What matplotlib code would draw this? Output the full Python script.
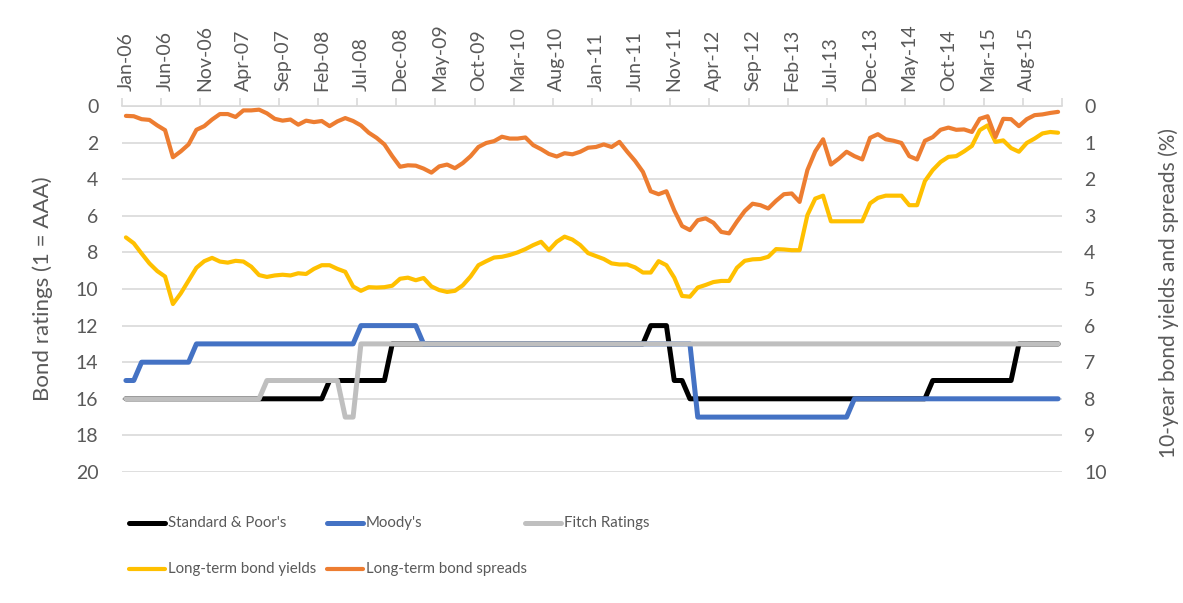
import matplotlib
matplotlib.use("Agg")
import matplotlib.pyplot as plt
from matplotlib.lines import Line2D
import numpy as np
import pandas as pd

# ---------------- data ----------------
months = pd.period_range("2006-01", "2015-12", freq="M")
month_labels = [p.strftime("%b-%y") for p in months]

sp_ratings = [
    16, 16, 16, 16, 16, 16, 16, 16, 16, 16, 16, 16,
    16, 16, 16, 16, 16, 16, 16, 16, 16, 16, 16, 16,
    16, 16, 15, 15, 15, 15, 15, 15, 15, 15, 13, 13,
    13, 13, 13, 13, 13, 13, 13, 13, 13, 13, 13, 13,
    13, 13, 13, 13, 13, 13, 13, 13, 13, 13, 13, 13,
    13, 13, 13, 13, 13, 13, 13, 12, 12, 12, 15, 15,
    16, 16, 16, 16, 16, 16, 16, 16, 16, 16, 16, 16,
    16, 16, 16, 16, 16, 16, 16, 16, 16, 16, 16, 16,
    16, 16, 16, 16, 16, 16, 16, 15, 15, 15, 15, 15,
    15, 15, 15, 15, 15, 15, 13, 13, 13, 13, 13, 13,
]
moodys_ratings = [
    15, 15, 14, 14, 14, 14, 14, 14, 14, 13, 13, 13,
    13, 13, 13, 13, 13, 13, 13, 13, 13, 13, 13, 13,
    13, 13, 13, 13, 13, 13, 12, 12, 12, 12, 12, 12,
    12, 12, 13, 13, 13, 13, 13, 13, 13, 13, 13, 13,
    13, 13, 13, 13, 13, 13, 13, 13, 13, 13, 13, 13,
    13, 13, 13, 13, 13, 13, 13, 13, 13, 13, 13, 13,
    13, 17, 17, 17, 17, 17, 17, 17, 17, 17, 17, 17,
    17, 17, 17, 17, 17, 17, 17, 17, 17, 16, 16, 16,
    16, 16, 16, 16, 16, 16, 16, 16, 16, 16, 16, 16,
    16, 16, 16, 16, 16, 16, 16, 16, 16, 16, 16, 16,
]
fitch_ratings = [
    16, 16, 16, 16, 16, 16, 16, 16, 16, 16, 16, 16,
    16, 16, 16, 16, 16, 16, 15, 15, 15, 15, 15, 15,
    15, 15, 15, 15, 17, 17, 13, 13, 13, 13, 13, 13,
    13, 13, 13, 13, 13, 13, 13, 13, 13, 13, 13, 13,
    13, 13, 13, 13, 13, 13, 13, 13, 13, 13, 13, 13,
    13, 13, 13, 13, 13, 13, 13, 13, 13, 13, 13, 13,
    13, 13, 13, 13, 13, 13, 13, 13, 13, 13, 13, 13,
    13, 13, 13, 13, 13, 13, 13, 13, 13, 13, 13, 13,
    13, 13, 13, 13, 13, 13, 13, 13, 13, 13, 13, 13,
    13, 13, 13, 13, 13, 13, 13, 13, 13, 13, 13, 13,
]
bond_yields = [
    3.59, 3.75, 4.03, 4.30, 4.51, 4.66, 5.41, 5.12, 4.77, 4.42, 4.24, 4.15,
    4.25, 4.28, 4.23, 4.25, 4.39, 4.62, 4.67, 4.63, 4.61, 4.63, 4.57, 4.59,
    4.45, 4.35, 4.35, 4.45, 4.53, 4.93, 5.05, 4.95, 4.96, 4.95, 4.91, 4.72,
    4.69, 4.76, 4.70, 4.93, 5.03, 5.08, 5.05, 4.90, 4.66, 4.35, 4.24, 4.14,
    4.12, 4.07, 4.00, 3.91, 3.80, 3.71, 3.94, 3.71, 3.57, 3.65, 3.80, 4.02,
    4.10, 4.18, 4.30, 4.33, 4.33, 4.41, 4.55, 4.55, 4.24, 4.35, 4.69, 5.19,
    5.21, 4.96, 4.89, 4.81, 4.78, 4.78, 4.42, 4.23, 4.19, 4.18, 4.12, 3.91,
    3.92, 3.94, 3.94, 2.98, 2.53, 2.45, 3.15, 3.15, 3.15, 3.15, 3.15, 2.66,
    2.51, 2.45, 2.45, 2.45, 2.71, 2.71, 2.05, 1.75, 1.53, 1.39, 1.37, 1.24,
    1.09, 0.66, 0.53, 0.98, 0.94, 1.15, 1.25, 1.01, 0.89, 0.75, 0.71, 0.73,
]
bond_spreads = [
    0.27, 0.28, 0.36, 0.38, 0.53, 0.66, 1.40, 1.24, 1.05, 0.65, 0.55, 0.37,
    0.22, 0.22, 0.30, 0.12, 0.12, 0.10, 0.20, 0.35, 0.40, 0.37, 0.51, 0.40,
    0.44, 0.41, 0.55, 0.42, 0.33, 0.41, 0.53, 0.73, 0.87, 1.05, 1.37, 1.66,
    1.62, 1.63, 1.71, 1.82, 1.65, 1.60, 1.70, 1.56, 1.37, 1.12, 1.01, 0.96,
    0.84, 0.89, 0.89, 0.86, 1.07, 1.18, 1.31, 1.38, 1.29, 1.32, 1.25, 1.14,
    1.12, 1.05, 1.12, 0.98, 1.25, 1.50, 1.80, 2.33, 2.41, 2.33, 2.85, 3.28,
    3.39, 3.12, 3.07, 3.19, 3.44, 3.48, 3.16, 2.87, 2.67, 2.71, 2.80, 2.59,
    2.41, 2.39, 2.62, 1.75, 1.24, 0.91, 1.60, 1.44, 1.25, 1.37, 1.46, 0.87,
    0.77, 0.91, 0.95, 1.01, 1.37, 1.46, 0.95, 0.85, 0.65, 0.59, 0.65, 0.64,
    0.71, 0.35, 0.28, 0.85, 0.35, 0.36, 0.55, 0.36, 0.25, 0.23, 0.19, 0.16,
]

series_names = ["Standard & Poor's", "Moody's", "Fitch Ratings",
                "Long-term bond yields", "Long-term bond spreads"]
left_ticks = [0, 2, 4, 6, 8, 10, 12, 14, 16, 18, 20]
right_ticks = [0, 1, 2, 3, 4, 5, 6, 7, 8, 9, 10]

# ---------------- style ----------------
TXT = "#595959"
GRID = "#D9D9D9"
C_SP, C_MO, C_FI = "#000000", "#4472C4", "#BFBFBF"
C_YI, C_SPR = "#FFC000", "#ED7D31"
plt.rcParams["font.family"] = ["Lato", "DejaVu Sans"]

fig = plt.figure(figsize=(11.83, 6.03), dpi=100)
fig.patch.set_facecolor("white")
W, H = 1183, 603
x0, x1, y0, y1 = 122, 1062, 106, 472
ax = fig.add_axes([x0 / W, 1 - y1 / H, (x1 - x0) / W, (y1 - y0) / H])
ax2 = ax.twinx()

x = np.arange(len(months))
kw = dict(solid_capstyle="round", solid_joinstyle="round")
ax.plot(x, sp_ratings, color=C_SP, lw=3.6, zorder=3, **kw)
ax.plot(x, moodys_ratings, color=C_MO, lw=3.6, zorder=4, **kw)
ax.plot(x, fitch_ratings, color=C_FI, lw=3.6, zorder=5, **kw)
ax2.plot(x, bond_yields, color=C_YI, lw=3.0, zorder=3, **kw)
ax2.plot(x, bond_spreads, color=C_SPR, lw=3.0, zorder=4, **kw)

ax.set_xlim(-0.5, len(months) - 0.5)
ax.set_ylim(20, 0)
ax2.set_ylim(10, 0)
ax.set_yticks(left_ticks)
ax2.set_yticks(right_ticks)
ax.yaxis.grid(True, color=GRID, lw=1.2, zorder=0)
ax.set_axisbelow(True)

for a in (ax, ax2):
    for s in a.spines.values():
        s.set_visible(False)
ax.spines["top"].set_visible(True)
ax.spines["top"].set_color(GRID)
ax.spines["top"].set_linewidth(1.2)

ax.tick_params(axis="y", length=0, pad=17, labelsize=14, labelcolor=TXT)
ax2.tick_params(axis="y", length=0, pad=16, labelsize=14, labelcolor=TXT)

ax.xaxis.tick_top()
ax.set_xticks(x[::5])
ax.set_xticklabels(month_labels[::5], rotation=90, fontsize=14, color=TXT)
ax.set_xticks(np.arange(-0.5, len(months), 5), minor=True)
ax.tick_params(axis="x", which="major", length=0, pad=11, top=True, bottom=False)
ax.tick_params(axis="x", which="minor", length=6, width=1.2, color=GRID,
               direction="out", top=True, bottom=False)

ax.set_ylabel("Bond ratings (1 = AAA)", fontsize=16, color=TXT)
ax.yaxis.set_label_coords(-0.073, 0.5)
ax2.set_ylabel("10-year bond yields and spreads (%)", fontsize=15, color=TXT,
               rotation=90)
ax2.yaxis.set_label_coords(1.103, 0.49)

# ---------------- legend (manual grid, like Excel) ----------------
leg_colors = [C_SP, C_MO, C_FI, C_YI, C_SPR]
leg_lw = [3.6, 3.6, 3.6, 3.0, 3.0]
leg_pos = [(129, 523), (327, 523), (525, 523), (129, 569), (327, 569)]
for name, col, lw, (lx, ly) in zip(series_names, leg_colors, leg_lw, leg_pos):
    fy = 1 - ly / H
    fig.add_artist(Line2D([lx / W, (lx + 36) / W], [fy, fy], color=col, lw=lw,
                          solid_capstyle="round", transform=fig.transFigure))
    fig.text((lx + 39) / W, fy, name, fontsize=10.8, color=TXT,
             ha="left", va="center")

fig.savefig("out.png", dpi=100, facecolor="white")
